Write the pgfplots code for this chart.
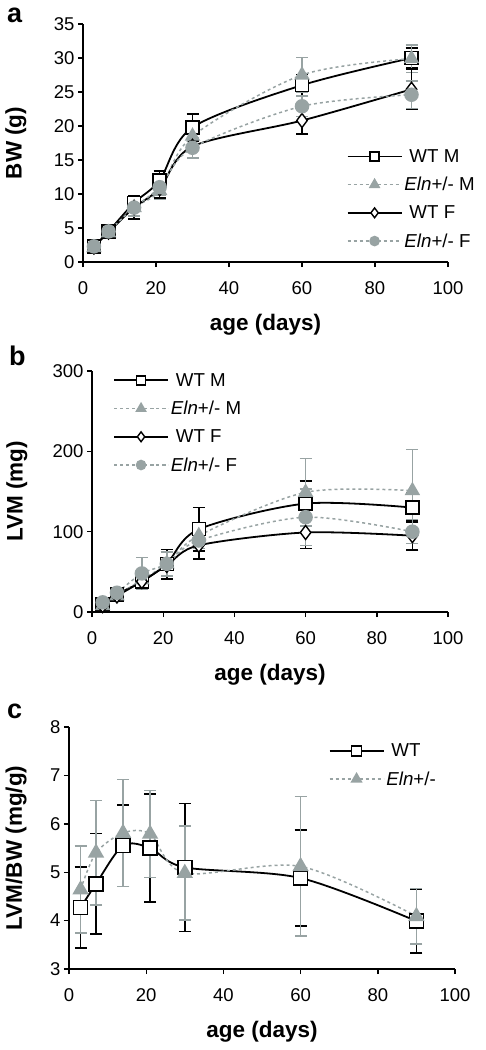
\documentclass[border=0pt]{standalone}
\usepackage{fontspec}
\setmainfont{Liberation Sans}
\usepackage{pgfplots}
\pgfplotsset{compat=1.18}
\definecolor{eg}{RGB}{152,163,163}

\pgfplotsset{
  panel/.style={
    scale only axis,
    clip=false,
    axis lines=left,
    axis line style={-, line width=1.6pt, black},
    tick align=outside,
    major tick length=5pt,
    tick style={line width=1.4pt, black},
    xmin=0, xmax=100, xtick={0,20,...,100},
    /pgf/number format/assume math mode=true,
    tick label style={font=\fontsize{18.5}{18.5}\selectfont},
    xticklabel style={yshift=-11pt},
    label style={font=\bfseries\fontsize{22.5}{22.5}\selectfont},
    xlabel={age (days)},
    legend style={draw=none, fill=none, font=\fontsize{18.7}{18.7}\selectfont, row sep=9.5pt, inner sep=0pt,
      nodes={inner sep=2pt}},
    legend cell align=left,
    legend image code/.code={
      \draw[mark repeat=2,mark phase=2,#1, every mark/.append style={scale=0.7}] plot coordinates {(0pt,0pt) (27pt,0pt) (54pt,0pt)};
    },
  },
  wtline/.style={black, line width=1.8pt, smooth, mark options={solid, fill=white, line width=1.4pt}},
  elnline/.style={eg, line width=1.5pt, smooth, dash pattern=on 3pt off 3pt, mark options={solid, fill=eg, draw=eg}},
  wtm/.style={wtline, mark=square*, mark size=6.5pt},
  wtf/.style={wtline, mark=diamond*, mark size=7pt},
  elnm/.style={elnline, mark=triangle*, mark size=7.5pt},
  elnf/.style={elnline, mark=*, mark size=6.5pt},
  errb/.style={error bars/.cd, y dir=both, y explicit,
    error bar style={solid, line width=1.5pt, #1},
    error mark options={rotate=90, mark size=6pt, line width=1.5pt, #1}},
}

\begin{document}
\begin{tikzpicture}
\path[use as bounding box] (0pt,0pt) rectangle (486pt,-1050pt);

\node[anchor=base west, font=\bfseries\fontsize{27}{27}\selectfont, inner sep=0pt] at (7pt,-22pt) {a};
\node[anchor=base west, font=\bfseries\fontsize{27}{27}\selectfont, inner sep=0pt] at (9pt,-365pt) {b};
\node[anchor=base west, font=\bfseries\fontsize{27}{27}\selectfont, inner sep=0pt] at (7pt,-718pt) {c};

% ---------- panel a ----------
\begin{axis}[panel, at={(83pt,-262pt)}, anchor=south west,
  width=365pt, height=238pt,
  ymin=0, ymax=35, ytick={0,5,...,35},
  ylabel={BW (g)},
  xlabel style={at={(axis description cs:0.5,-0.265)}, anchor=center},
  ylabel style={at={(axis description cs:-0.184,0.5)}, anchor=center},
  legend style={at={(axis description cs:1.079,0.483)}, anchor=north east},
]
\addplot[wtm, errb=black] coordinates {
 (3,2.3) +- (0,0.4) (7,4.5) +- (0,0.5) (14,8.7) +- (0,1.0) (21,12.0) +- (0,1.4)
 (30,19.8) +- (0,2.0) (60,26.0) +- (0,1.6) (90,30.0) +- (0,1.5)};
\addlegendentry{\hspace{5pt}WT M}
\addplot[elnm, errb=eg] coordinates {
 (3,2.1) +- (0,0.4) (7,4.3) +- (0,0.5) (14,8.0) +- (0,1.7) (21,10.5) +- (0,1.2)
 (30,18.5) +- (0,2.0) (60,27.5) +- (0,2.6) (90,29.9) +- (0,2.0)};
\addlegendentry{\textit{Eln}+/- M}
\addplot[wtf, errb=black] coordinates {
 (3,2.2) +- (0,0.4) (7,4.4) +- (0,0.5) (14,8.0) +- (0,1.7) (21,10.8) +- (0,1.4)
 (30,17.0) +- (0,1.8) (60,20.8) +- (0,2.0) (90,25.4) +- (0,3.0)};
\addlegendentry{\hspace{5pt}WT F}
\addplot[elnf, errb=eg] coordinates {
 (3,2.3) +- (0,0.4) (7,4.5) +- (0,0.5) (14,8.0) +- (0,1.2) (21,11.0) +- (0,1.2)
 (30,16.8) +- (0,1.5) (60,22.9) +- (0,1.5) (90,24.6) +- (0,2.0)};
\addlegendentry{\textit{Eln}+/- F}
\end{axis}

% ---------- panel b ----------
\begin{axis}[panel, at={(92pt,-612pt)}, anchor=south west,
  width=356pt, height=241pt,
  ymin=0, ymax=300, ytick={0,100,200,300},
  ylabel={LVM (mg)},
  xlabel style={at={(axis description cs:0.5,-0.261)}, anchor=center},
  ylabel style={at={(axis description cs:-0.211,0.5)}, anchor=center},
  legend style={at={(axis description cs:0.425,1.0)}, anchor=north east},
]
\addplot[wtm, errb=black] coordinates {
 (3,10) +- (0,3) (7,22) +- (0,3) (14,38) +- (0,8) (21,60) +- (0,18)
 (30,103) +- (0,27) (60,135) +- (0,28) (90,130) +- (0,18)};
\addlegendentry{\hspace{5pt}WT M}
\addplot[elnm, errb=eg] coordinates {
 (3,8) +- (0,3) (7,20) +- (0,3) (14,40) +- (0,10) (21,60) +- (0,15)
 (30,95) +- (0,10) (60,149) +- (0,42) (90,151) +- (0,51)};
\addlegendentry{\textit{Eln}+/- M}
\addplot[wtf, errb=black] coordinates {
 (3,8) +- (0,3) (7,20) +- (0,3) (14,38) +- (0,8) (21,58) +- (0,17)
 (30,83) +- (0,17) (60,99) +- (0,20) (90,95) +- (0,18)};
\addlegendentry{\hspace{5pt}WT F}
\addplot[elnf, errb=eg] coordinates {
 (3,12) +- (0,3) (7,24) +- (0,3) (14,48) +- (0,20) (21,60) +- (0,15)
 (30,89) +- (0,10) (60,118) +- (0,35) (90,100) +- (0,15)};
\addlegendentry{\textit{Eln}+/- F}
\end{axis}

% ---------- panel c ----------
\begin{axis}[panel, at={(69pt,-969pt)}, anchor=south west,
  width=386pt, height=242pt,
  ymin=3, ymax=8, ytick={3,4,...,8},
  ylabel={LVM/BW (mg/g)},
  xlabel style={at={(axis description cs:0.5,-0.260)}, anchor=center},
  ylabel style={at={(axis description cs:-0.137,0.5)}, anchor=center},
  legend style={at={(axis description cs:0.956,0.94)}, anchor=north east},
]
\addplot[wtline, mark=square*, mark size=7pt, errb=black] coordinates {
 (3,4.27) +- (0,0.84) (7,4.76) +- (0,1.04) (14,5.55) +- (0,0.84) (21,5.50) +- (0,1.12)
 (30,5.10) +- (0,1.32) (60,4.88) +- (0,0.99) (90,3.99) +- (0,0.66)};
\addlegendentry{\hspace{5pt}WT}
\addplot[elnline, mark=triangle*, mark size=8pt, errb=eg] coordinates {
 (3,4.64) +- (0,0.90) (7,5.40) +- (0,1.08) (14,5.81) +- (0,1.11) (21,5.79) +- (0,0.90)
 (30,4.98) +- (0,0.97) (60,5.12) +- (0,1.44) (90,4.09) +- (0,0.57)};
\addlegendentry{\textit{Eln}+/-}
\end{axis}
\end{tikzpicture}
\end{document}
